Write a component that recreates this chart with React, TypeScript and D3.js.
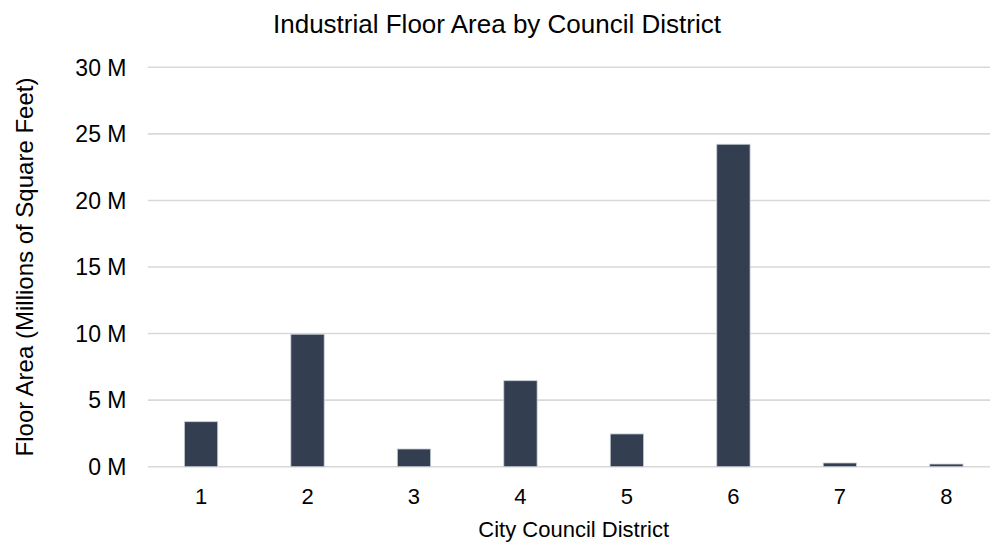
import React from "react";
import * as d3 from "d3";

const districts = ["1", "2", "3", "4", "5", "6", "7", "8"];
const floorArea = [3.38, 9.95, 1.33, 6.46, 2.46, 24.22, 0.28, 0.2];
const yTicks = [0, 5, 10, 15, 20, 25, 30];

const W = 990;
const H = 542;
const FONT = "'Liberation Sans', Arial, Helvetica, sans-serif";

export default function App() {
  const x = d3
    .scaleBand<string>()
    .domain(districts)
    .range([147.8, 999.6])
    .paddingInner(0.687)
    .paddingOuter(0.3435);
  const y = d3.scaleLinear().domain([0, 30]).range([466.7, 67.3]);

  return (
    <svg
      width={W}
      height={H}
      style={{ position: "absolute", left: 0, top: 0, background: "#fff" }}
      fontFamily={FONT}
    >
      <rect x={0} y={0} width={W} height={H} fill="#fff" />
      <text x={497} y={33} textAnchor="middle" fontSize={26} fill="#000">
        Industrial Floor Area by Council District
      </text>
      {yTicks.map((t) => (
        <g key={t}>
          <line x1={147.8} x2={W} y1={y(t)} y2={y(t)} stroke="#d9d9d9" strokeWidth={1.6} />
          <text x={126.5} y={y(t)} dy="0.36em" textAnchor="end" fontSize={23} fill="#000">
            {`${t} M`}
          </text>
        </g>
      ))}
      {districts.map((d, i) => (
        <rect
          key={d}
          x={x(d)!}
          y={y(floorArea[i])}
          width={x.bandwidth()}
          height={y(0) - y(floorArea[i])}
          fill="#333f50"
          stroke="#c9ced6"
          strokeWidth={0.8}
        />
      ))}
      {districts.map((d) => (
        <text
          key={d}
          x={x(d)! + x.bandwidth() / 2}
          y={504}
          textAnchor="middle"
          fontSize={22}
          fill="#000"
        >
          {d}
        </text>
      ))}
      <text x={573.7} y={537} textAnchor="middle" fontSize={22} fill="#000">
        City Council District
      </text>
      <text
        transform={`translate(33,267) rotate(-90)`}
        textAnchor="middle"
        fontSize={24}
        fill="#000"
      >
        Floor Area (Millions of Square Feet)
      </text>
    </svg>
  );
}
